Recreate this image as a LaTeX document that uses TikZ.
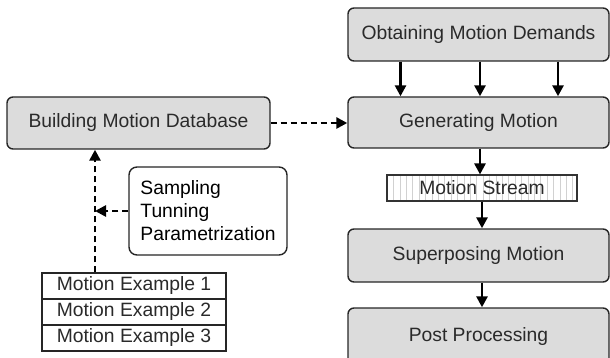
\documentclass[tikz,border=0pt]{standalone}
\usepackage{fontspec}
\setmainfont{Liberation Sans}
\usetikzlibrary{arrows.meta}
\definecolor{boxgray}{HTML}{DCDCDC}
\definecolor{inkgray}{HTML}{2A2A2A}
\begin{document}
\begin{tikzpicture}[x=1pt,y=-1pt,
  font=\fontsize{19.3}{23}\selectfont,
  stage/.style={draw=black!85, line width=1.4pt, rounded corners=6pt,
    fill=boxgray, text=inkgray, inner sep=0pt,
    minimum width=261pt, minimum height=53pt},
  notebox/.style={draw=black!85, line width=1.4pt, rounded corners=8pt,
    fill=white, text=black, align=left, inner sep=0pt,
    minimum width=158pt, minimum height=88pt},
  streambox/.style={draw=black!80, line width=1.1pt, fill=white, text=inkgray,
    inner sep=0pt, minimum width=190pt, minimum height=26pt,
    path picture={
      \foreach \k in {1,...,29}
        \draw[black!18, line width=0.6pt]
          ([xshift=\k*6.4pt]path picture bounding box.south west) --
          ([xshift=\k*6.4pt]path picture bounding box.north west);}},
  rowbox/.style={draw=black!85, line width=1.1pt, fill=white, text=inkgray,
    inner sep=0pt, minimum width=184pt, minimum height=26pt},
  flow/.style={draw=black, line width=2.6pt,
    -{Triangle[length=11pt,width=11pt]}},
  dashflow/.style={flow, dash pattern=on 6pt off 4pt}
]
\useasboundingbox (0,0) rectangle (610,358);
\clip (0,0) rectangle (610,358);

% main pipeline
\node[stage] (omd) at (478.5,34.5) {Obtaining Motion Demands};
\node[stage, minimum height=51pt] (gm) at (478.5,122.5) {Generating Motion};
\node[streambox] (ms) at (482,188) {Motion Stream};
\node[stage] (sm) at (478.5,255.5) {Superposing Motion};
\node[stage, minimum height=58pt] (pp) at (478.5,337) {Post Processing};

% database side
\node[stage, minimum width=263pt, minimum height=52pt] (bmd) at (138.5,123) {Building Motion Database};
\node[notebox] (stp) at (208,211) {Sampling\\Tunning\\Parametrization};
\node[rowbox] (me1) at (134,286) {Motion Example 1};
\node[rowbox] (me2) at (134,312) {Motion Example 2};
\node[rowbox] (me3) at (134,338) {Motion Example 3};
\coordinate (tap) at (95,273);

% connectors
\foreach \dx in {-78,1.5,79.5}
  \draw[flow] ([xshift=\dx pt]omd.south) -- ([xshift=\dx pt]gm.north);
\draw[flow] ([xshift=1.5pt]gm.south) -- ([xshift=-2pt]ms.north);
\draw[flow] (ms.south) -- ([xshift=3.5pt]sm.north);
\draw[flow] ([xshift=3.5pt]sm.south) -- ([xshift=3.5pt]pp.north);
\draw[dashflow] (bmd.east) -- (gm.west |- bmd.east);
\draw[dashflow] (me1.north -| tap) -- (bmd.south -| tap);
\draw[dashflow] (stp.west) -- (stp.west -| tap);
\end{tikzpicture}
\end{document}
